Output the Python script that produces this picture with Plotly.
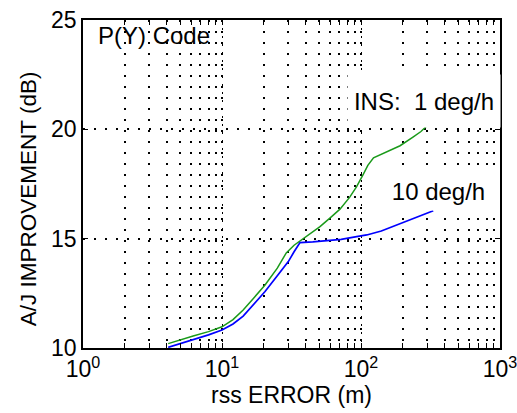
import plotly.graph_objects as go

# Data
green_x = [4.1, 5, 6.2, 8, 10, 12, 14.2, 17, 20.4, 25, 29, 33, 36.4, 42, 50.7, 60, 70.6, 83, 93, 104, 112, 123, 145, 162, 191, 238, 270, 297]
green_y = [10.2, 10.38, 10.55, 10.75, 10.97, 11.3, 11.74, 12.3, 12.88, 13.65, 14.35, 14.7, 14.9, 15.15, 15.55, 15.95, 16.35, 16.9, 17.38, 17.95, 18.35, 18.7, 18.9, 19.05, 19.25, 19.66, 19.9, 20.15]
blue_x = [4.1, 5, 6.2, 8, 10, 12, 14.2, 17, 20.4, 25, 30, 33, 36.4, 45, 53.6, 72, 93, 110, 140, 181, 230, 280, 331]
blue_y = [10.03, 10.2, 10.37, 10.6, 10.82, 11.1, 11.46, 12.0, 12.58, 13.3, 13.95, 14.4, 14.82, 14.85, 14.9, 14.97, 15.09, 15.17, 15.35, 15.62, 15.9, 16.1, 16.28]

x_tickvals = [1, 10, 100, 1000]
x_ticktext = ["10<sup>0</sup>", "10<sup>1</sup>", "10<sup>2</sup>", "10<sup>3</sup>"]
y_tickvals = [10, 15, 20, 25]
y_ticktext = ["10", "15", "20", "25"]

FONT = "Liberation Sans, Arial, sans-serif"
FS = 23

fig = go.Figure()
fig.add_trace(go.Scatter(x=green_x, y=green_y, mode="lines",
                         line=dict(color="#1a9a1a", width=1.5), showlegend=False))
fig.add_trace(go.Scatter(x=blue_x, y=blue_y, mode="lines",
                         line=dict(color="#0000ff", width=1.7), showlegend=False))

grid_dash = "2px,9px"
fig.update_xaxes(type="log", range=[0, 3], tickvals=x_tickvals, ticktext=x_ticktext,
                 ticks="inside", ticklen=5, tickcolor="black", tickwidth=1,
                 showline=True, linecolor="black", linewidth=1.5, mirror="ticks",
                 showgrid=True, gridcolor="black", gridwidth=1.4, griddash="2px,6px",
                 minor=dict(dtick="D1", ticks="inside", ticklen=5, tickcolor="black", tickwidth=1,
                            showgrid=True, gridcolor="black", gridwidth=1.5, griddash=grid_dash),
                 zeroline=False, ticklabeloverflow="allow", automargin=False,
                 tickfont=dict(family=FONT, size=FS, color="black"),
                 title=dict(text="rss ERROR (m)", font=dict(family=FONT, size=FS, color="black"),
                            standoff=4))
fig.update_yaxes(range=[10, 25], tickvals=y_tickvals, ticktext=y_ticktext,
                 ticks="inside", ticklen=5, tickcolor="black", tickwidth=1,
                 showline=True, linecolor="black", linewidth=1.5, mirror="ticks",
                 showgrid=True, gridcolor="black", gridwidth=1.5, griddash=grid_dash,
                 zeroline=False, automargin=False,
                 tickfont=dict(family=FONT, size=FS, color="black"))

fig.add_annotation(text="A/J IMPROVEMENT (dB)", xref="paper", yref="paper",
                   x=-0.13, y=0.456, xanchor="center", yanchor="middle", textangle=-90,
                   showarrow=False, font=dict(family=FONT, size=FS - 0.5, color="black"))
fig.add_annotation(text="P(Y) Code", xref="paper", yref="paper", x=0.032, y=0.954,
                   xanchor="left", yanchor="middle", showarrow=False,
                   font=dict(family=FONT, size=FS + 1, color="black"))
fig.add_annotation(text="INS:  1 deg/h", xref="paper", yref="paper", x=0.818, y=0.753,
                   xanchor="center", yanchor="middle", showarrow=False,
                   bgcolor="white", width=150, height=50,
                   font=dict(family=FONT, size=FS + 1, color="black"))
fig.add_annotation(text="10 deg/h", xref="paper", yref="paper", x=0.853, y=0.479,
                   xanchor="center", yanchor="middle", showarrow=False,
                   bgcolor="white", width=115, height=36,
                   font=dict(family=FONT, size=FS + 1, color="black"))

fig.update_layout(width=517, height=413, margin=dict(l=83, r=17, t=20, b=65),
                  paper_bgcolor="white", plot_bgcolor="white",
                  font=dict(family=FONT, size=FS, color="black"))

fig.write_html("out.html")
